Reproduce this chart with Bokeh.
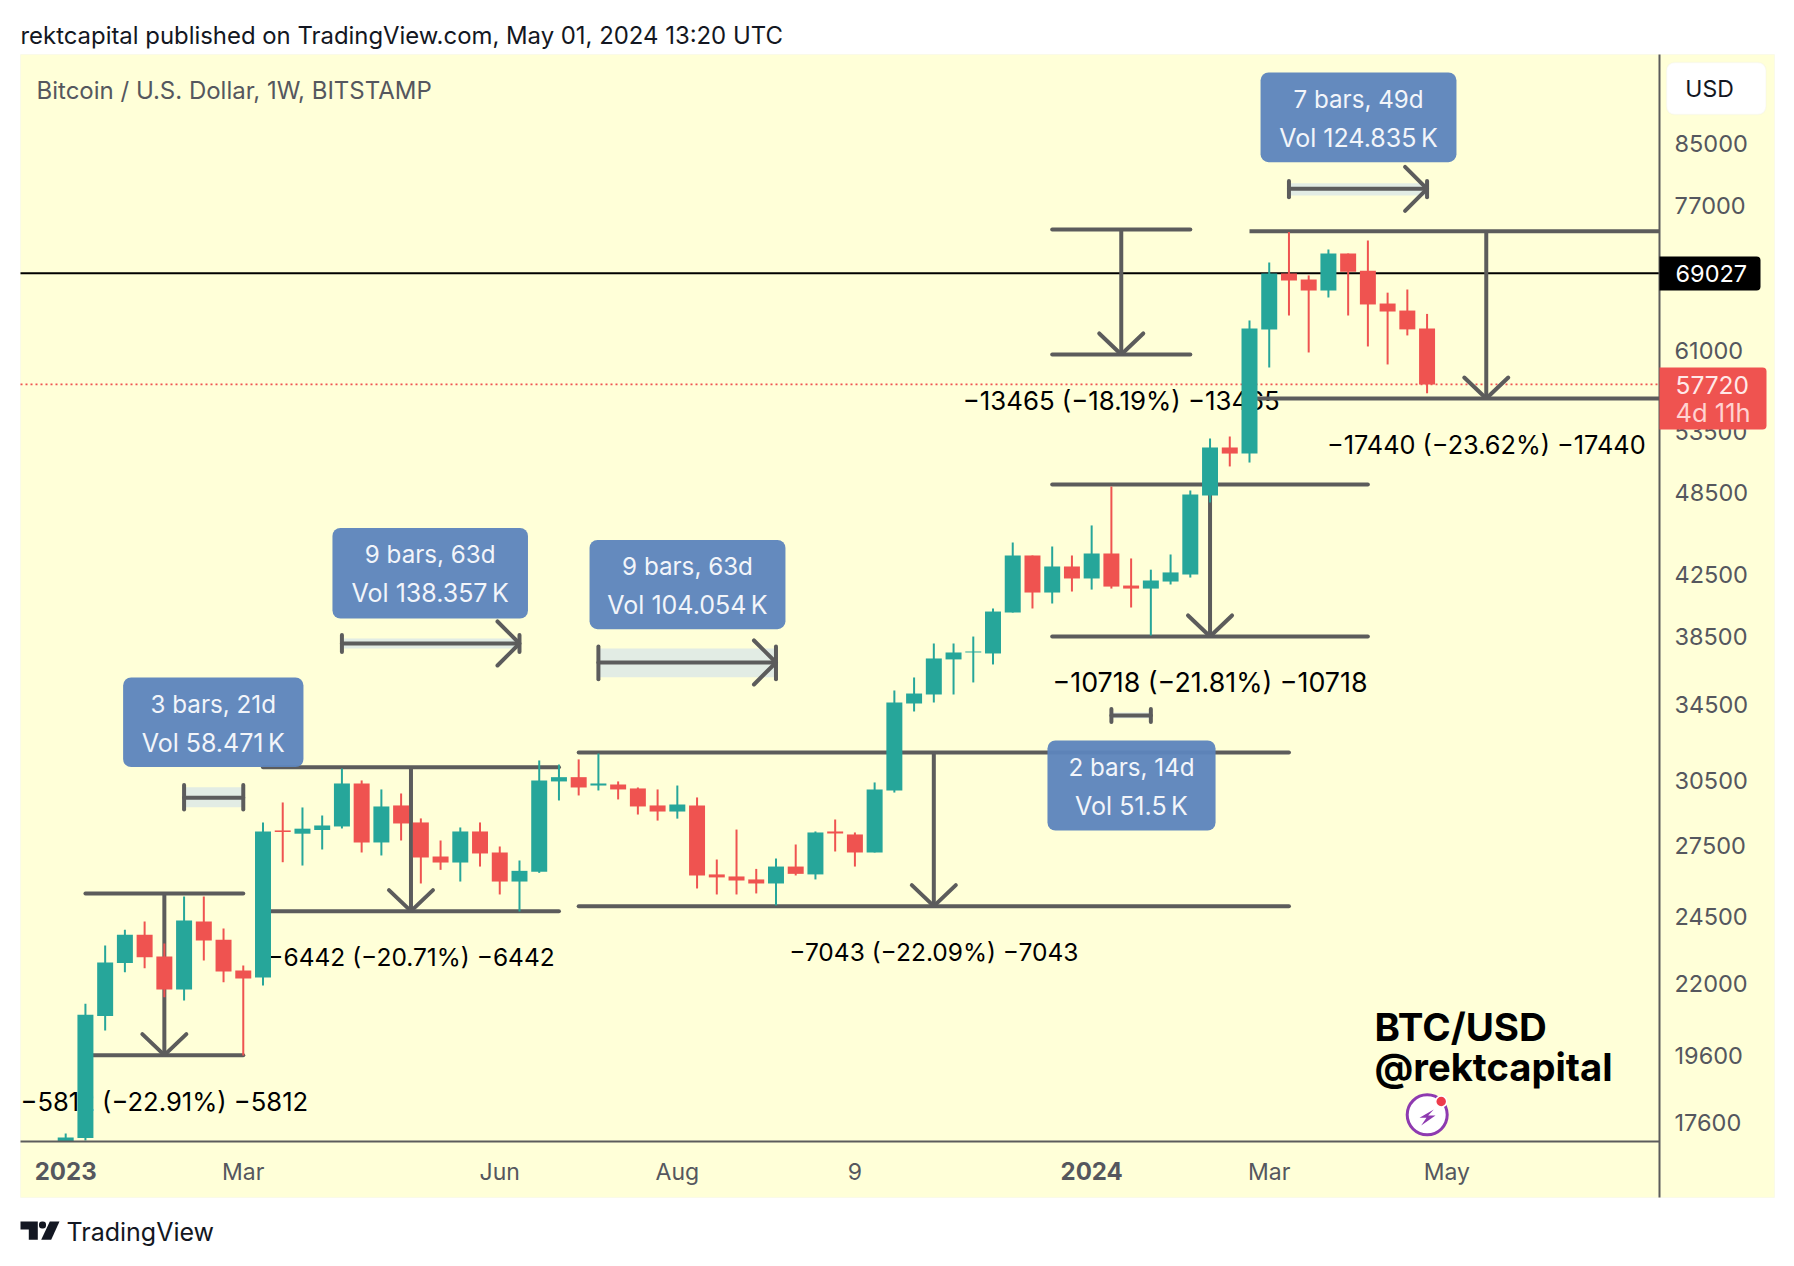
import math
from bokeh.plotting import figure
from bokeh.embed import file_html
from bokeh.resources import INLINE
from bokeh.core.properties import value
from bokeh.models import (BoxAnnotation, ColumnDataSource, FixedTicker, Label, PolyAnnotation,
                          PrintfTickFormatter, Range1d)

# ---------- data ----------
opens = [17080, 17170, 20890, 22750, 23813, 22990, 21800, 24324, 23620, 22480,
         22225, 28160, 28013, 28180, 28340, 30370, 27620, 29315, 28524, 27003,
         26743, 28113, 27178, 25937, 26345, 30470, 30680, 30270, 30320, 30128,
         29315, 29030, 29315, 26236, 26150, 26025, 25856, 26570, 26236, 28113,
         27978, 27178, 30030, 34541, 35045, 37080, 37496, 37436, 39985, 43829,
         41293, 43060, 42237, 43970, 41760, 41557, 42030, 42510, 48270, 52147,
         51640, 63060, 69000, 68330, 67130, 71250, 69300, 65740, 65000, 63150]
highs = [17290, 21306, 23401, 24000, 24324, 23476, 25320, 25320, 24050, 22660,
         28524, 29456, 29220, 28845, 31111, 30518, 30080, 29885, 28710, 27708,
         28295, 28524, 27442, 26830, 31515, 31310, 31570, 31870, 30470, 30175,
         30080, 30270, 29695, 26873, 28200, 26470, 26916, 27530, 28113, 28660,
         28068, 30420, 35272, 36018, 38042, 38042, 38470, 40246, 44754, 43829,
         44467, 43829, 46000, 48973, 43620, 42840, 43900, 48660, 52907, 53077,
         63970, 70226, 73750, 68780, 71710, 71250, 72760, 66900, 67240, 64650]
lows = [17080, 17100, 20410, 22418, 22562, 21534, 21420, 22844, 22060, 19605,
        21943, 26756, 26614, 27310, 28249, 27178, 27048, 27708, 25856, 26430,
        25937, 26570, 25403, 24716, 26302, 29551, 29790, 30030, 29600, 28890,
        28610, 28700, 25649, 25403, 25403, 25445, 24958, 26192, 26025, 27222,
        26570, 27178, 29930, 34100, 34597, 35045, 35731, 36780, 39985, 40246,
        40570, 41360, 41490, 41557, 40310, 38535, 41830, 42300, 47730, 50580,
        50900, 59310, 64484, 60760, 66380, 64484, 61350, 59600, 62450, 56900]
closes = [17180, 20937, 22765, 23813, 22964, 21800, 24363, 23590, 22444, 22190,
          28113, 28090, 28240, 28385, 30370, 27620, 29267, 28477, 26960, 26743,
          28113, 27135, 25937, 26387, 30518, 30680, 30175, 30370, 30080, 29267,
          29030, 29360, 26192, 26110, 25980, 25856, 26570, 26260, 28068, 28022,
          27178, 30080, 34597, 35100, 37136, 37496, 37556, 40050, 43829, 41293,
          43060, 42237, 43970, 41690, 41557, 42100, 42650, 48350, 52147, 51640,
          63150, 69000, 68220, 67130, 71250, 69190, 65640, 64900, 63060, 57720]

price_ticks = [85000, 77000, 61000, 53500, 48500, 42500, 38500, 34500, 30500, 27500, 24500, 22000, 19600, 17600]
time_ticks = {9: "Mar", 22: "Jun", 31: "Aug", 40: "9", 61: "Mar", 70: "May"}
year_ticks = {0: "2023", 52: "2024"}

last_price = 57720
level_price = 69027

# x_start, x_end, top price, bottom price, label, label price
range_tools = [
    (1, 9, 25445, 19615, "\u22125812 (\u221222.91%) \u22125812", 18219),
    (10, 25, 31176, 24730, "\u22126442 (\u221220.71%) \u22126442", 22972),
    (26, 62, 31923, 24929, "\u22127043 (\u221222.09%) \u22127043", 23140),
    (50, 57, 74056, 60564, "\u221213465 (\u221218.19%) \u221213465", 56207),
    (50, 66, 49133, 38473, "\u221210718 (\u221221.81%) \u221210718", 35729),
    (60, 84, 73857, 56423, "\u221217440 (\u221223.62%) \u221217440", 52399),
]
range_label_sizes = ["25.6px", "24.5px", "24.5px", "25.8px", "26.8px", "25.3px"]
# x_start, x_end, mid price, shade top, shade bottom, cap top, cap bottom, has arrow
measures = [
    (6, 9, 29680, 30190, 29234, 30290, 29130, False),
    (14, 23, 38043, 38350, 37738, 38560, 37530, True),
    (27, 36, 36898, 37738, 36034, 37860, 35920, True),
    (53, 55, 33882, 34040, 33725, 34240, 33530, False),
    (62, 69, 79066, 79786, 78215, 80060, 77990, True),
]
# left, right, top, bottom, line 1, line 2
info_boxes = [
    (2.91, 12.05, 36018, 31182, "3 bars, 21d", "Vol 58.471\u2009K"),
    (13.52, 23.43, 45818, 39604, "9 bars, 63d", "Vol 138.357\u2009K"),
    (26.55, 36.48, 44936, 38928, "9 bars, 63d", "Vol 104.054\u2009K"),
    (49.76, 58.28, 32546, 28158, "2 bars, 14d", "Vol 51.5\u2009K"),
    (60.56, 70.49, 95335, 82525, "7 bars, 49d", "Vol 124.835\u2009K"),
]

# ---------- page geometry ----------
X0, DX = 65.2, 19.73          # page px of bar 0, px per bar
Y0, KY = 272.7, 621.5         # page px of the 69027 level, px per log unit
def X(px): return (px - X0) / DX
def Y(py): return level_price * math.exp((Y0 - py) / KY)
def up(price, px): return price * math.exp(px / KY)

BG = "#FFFFD8"
GREEN, RED = "#26A69A", "#EF5350"
INK = "#5C5C5C"
AXIS_TEXT = "#55575E"
FONT = "Inter"
W, H = 1786, 1258
PANE_RIGHT, PANE_BOTTOM = 1659, 1141

def cbox(l, r, t, b, **kw):
    kw.setdefault("line_color", None)
    p.add_layout(BoxAnnotation(left=l, right=r, top=t, bottom=b, left_units="canvas", right_units="canvas",
                               top_units="canvas", bottom_units="canvas", fill_alpha=1, **kw))

def clabel(x, y, text, **kw):
    kw.setdefault("text_font", FONT)
    kw.setdefault("text_baseline", "middle")
    p.add_layout(Label(x=x, y=y, x_units="canvas", y_units="canvas", text=text, **kw))

p = figure(width=W, height=H, output_backend="svg", toolbar_location=None,
           x_range=Range1d(X(0), X(W)), y_range=Range1d(Y(H), Y(0)),
           y_axis_type="log", y_axis_location="right",
           min_border=0, min_border_left=0, min_border_right=0, min_border_top=0, min_border_bottom=0)
p.grid.visible = False
p.outline_line_color = None
p.background_fill_color = "white"
p.border_fill_color = "white"

# panel behind the axes
cbox(20, 1774, 54, 1197, fill_color=BG, line_color="#EDEDE0", line_width=1, level="underlay")

# axes
p.yaxis.fixed_location = X(PANE_RIGHT)
p.yaxis.bounds = (Y(1197), Y(54))
p.yaxis.ticker = FixedTicker(ticks=price_ticks)
p.yaxis.formatter = PrintfTickFormatter(format="%d")
p.yaxis.minor_tick_line_color = None
p.yaxis.major_tick_line_color = None
p.yaxis.axis_line_color = INK
p.yaxis.axis_line_width = 2
p.yaxis.major_label_standoff = 9
p.yaxis.major_label_text_font = FONT
p.yaxis.major_label_text_font_size = "23.5px"
p.yaxis.major_label_text_color = AXIS_TEXT
p.xaxis.fixed_location = Y(PANE_BOTTOM)
p.xaxis.bounds = (X(20), X(PANE_RIGHT))
p.xaxis.ticker = FixedTicker(ticks=list(time_ticks))
p.xaxis.major_label_overrides = time_ticks
p.xaxis.minor_tick_line_color = None
p.xaxis.major_tick_line_color = None
p.xaxis.axis_line_color = INK
p.xaxis.axis_line_width = 2
p.xaxis.major_label_standoff = 10
p.xaxis.major_label_text_font = FONT
p.xaxis.major_label_text_font_size = "23px"
p.xaxis.major_label_text_color = AXIS_TEXT
for i, t in year_ticks.items():
    clabel(X0 + i * DX, 1170, t, text_align="center", text_font_size="24px", text_font_style="bold", text_color=AXIS_TEXT)

# level lines
p.line([X(20), X(PANE_RIGHT)], [last_price, last_price], line_color=RED, line_width=1.6, line_dash="2 3")
p.line([X(20), X(PANE_RIGHT)], [level_price, level_price], line_color="#000000", line_width=2)

# measure tools
for x0, x1, mid, st, sb, ct, cb, arrow in measures:
    p.quad(left=x0, right=x1, top=st, bottom=sb, fill_color="#E2ECE4", line_color=None)
    p.line([x0, x1], [mid, mid], line_color=INK, line_width=4, line_cap="round")
    p.line([x0, x0], [cb, ct], line_color=INK, line_width=4, line_cap="round")
    p.line([x1, x1], [cb, ct], line_color=INK, line_width=4, line_cap="round")
    if arrow:
        dx = 22 / DX
        p.line([x1 - dx, x1, x1 - dx], [up(mid, 22), mid, up(mid, -22)], line_color=INK, line_width=4, line_cap="round")

# price range tools
for (x0, x1, top, bot, label, ly), size in zip(range_tools, range_label_sizes):
    xm = (x0 + x1) / 2
    dx = 22 / DX
    xe = min(x1, X(PANE_RIGHT))
    cap = "round" if x1 <= X(PANE_RIGHT) else "butt"
    p.line([x0, xe], [top, top], line_color=INK, line_width=4, line_cap=cap)
    p.line([x0, xe], [bot, bot], line_color=INK, line_width=4, line_cap=cap)
    p.line([xm, xm], [top, bot], line_color=INK, line_width=4)
    p.line([xm - dx, xm, xm + dx], [up(bot, 21), bot, up(bot, 21)], line_color=INK, line_width=4, line_cap="round")
    p.text([xm], [ly], text=[label], text_align="center", text_baseline="middle", text_color="#000000",
           text_font=value(FONT), text_font_size=size)

# watermark
p.text([X(1374)], [Y(1026)], text=["BTC/USD"], text_baseline="middle", text_color="#000000",
       text_font=value(FONT), text_font_size="38.5px", text_font_style="bold")
p.text([X(1374)], [Y(1066)], text=["@rektcapital"], text_baseline="middle", text_color="#000000",
       text_font=value(FONT), text_font_size="38.2px", text_font_style="bold")
p.scatter([X(1426.7)], [Y(1114.3)], size=40, fill_color="white", line_color="#8E3AB0", line_width=3)
bolt_x = [1433.3, 1419, 1426, 1420.7, 1435, 1427.7]
bolt_y = [1109, 1117.3, 1117.3, 1125, 1115, 1115]
p.patch([X(v) for v in bolt_x], [Y(v) for v in bolt_y], fill_color="#8E3AB0", line_color=None)
p.scatter([X(1440.7)], [Y(1101)], size=11, fill_color="#EE3B4B", line_color="white", line_width=1.5)

# candles
idx = list(range(len(opens)))
colors = [GREEN if c >= o else RED for o, c in zip(opens, closes)]
src = ColumnDataSource(dict(x=idx, o=opens, h=highs, l=lows, c=closes, color=colors,
                            top=[max(a, b) for a, b in zip(opens, closes)],
                            bottom=[min(a, b) for a, b in zip(opens, closes)]))
p.segment(x0="x", x1="x", y0="l", y1="h", line_color="color", line_width=2, source=src)
p.vbar(x="x", width=0.81, top="top", bottom="bottom", fill_color="color", line_color=None, source=src)

# info boxes
for l, r, t, b, a, c in info_boxes:
    p.add_layout(BoxAnnotation(left=l, right=r, top=t, bottom=b, fill_color="#5E85BC", fill_alpha=0.96,
                               line_color=None, border_radius=8))
    for txt, off, fs in ((a, 26.6, "24.2px"), (c, 65.5, "25px")):
        p.add_layout(Label(x=(l + r) / 2, y=up(t, -off), text=txt, text_align="center", text_baseline="middle",
                           text_color="#F2F5FA", text_font=FONT, text_font_size=fs))

# axis plates
RIGHT_ROUND = dict(top_left=0, top_right=4, bottom_right=4, bottom_left=0)
cbox(1659, 1760, 256, 290, fill_color="#000000", border_radius=RIGHT_ROUND)
clabel(1675, 273, str(level_price), text_color="white", text_font_size="23.5px")
cbox(1659, 1766, 367, 429, fill_color=RED, border_radius=RIGHT_ROUND)
clabel(1675, 384, str(last_price), text_color="#FFE9E8", text_font_size="24.5px")
clabel(1675, 412, "4d 11h", text_color="#FFD3D1", text_font_size="25.5px")
cbox(1666, 1765.5, 62, 114, fill_color="white", line_color="#EFEFE6", line_width=1.5, border_radius=8)
clabel(1709, 88, "USD", text_align="center", text_color="#131722", text_font_size="23px")

# titles and branding
clabel(36, 90, "Bitcoin / U.S. Dollar, 1W, BITSTAMP", text_color="#55575E", text_font_size="24px")
clabel(20, 35, "rektcapital published on TradingView.com, May 01, 2024 13:20 UTC", text_color="#131722", text_font_size="23.9px")
logo_t_x = [20, 37.3, 37.3, 28.3, 28.3, 20]
logo_t_y = [1221, 1221, 1239.3, 1239.3, 1229, 1229]
logo_s_x = [49.3, 59, 50.7, 40.7]
logo_s_y = [1221, 1221, 1239.3, 1239.3]
logo_ink = "#131722"
for xs, ys in ((logo_t_x, logo_t_y), (logo_s_x, logo_s_y)):
    p.add_layout(PolyAnnotation(xs=xs, ys=ys, xs_units="canvas", ys_units="canvas", fill_color=logo_ink, fill_alpha=1, line_color=None))
cbox(38.5, 45.5, 1221, 1228, fill_color=logo_ink, border_radius=3)
clabel(66, 1231, "TradingView", text_color=logo_ink, text_font_size="25px")

open("out.html", "w").write(file_html(p, INLINE))
